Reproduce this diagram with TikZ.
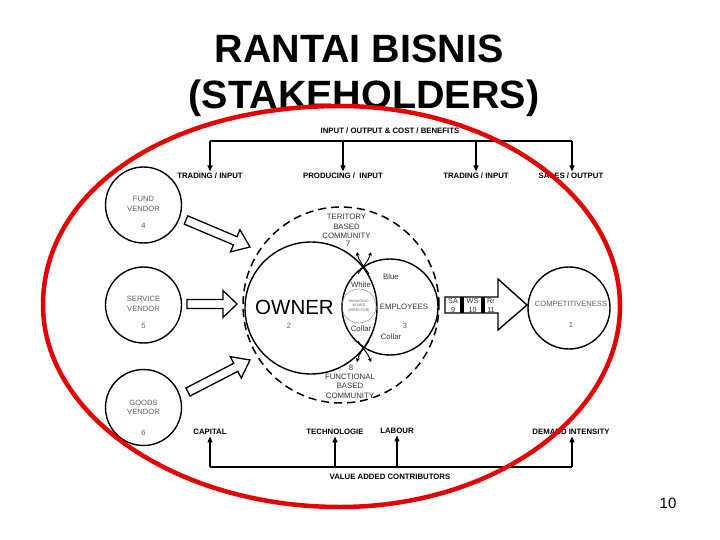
\documentclass[tikz,border=0pt]{standalone}
\usepackage{fontspec}
\setmainfont{Liberation Sans}
\usetikzlibrary{calc,arrows.meta}
\definecolor{ringred}{RGB}{228,0,0}
\definecolor{txtgray}{RGB}{95,95,95}
\newcommand{\hollowarr}[5]{%
  \coordinate (hb) at ($(#2)!#5!(#1)$);
  \draw[line width=1.3pt, fill=white] ($(#1)!#3!90:(#2)$) -- ($(hb)!#3!-90:(#1)$) -- ($(hb)!#4!-90:(#1)$) -- (#2) -- ($(hb)!#4!90:(#1)$) -- ($(hb)!#3!90:(#1)$) -- ($(#1)!#3!-90:(#2)$) -- cycle;}
\begin{document}
\begin{tikzpicture}[x=1pt,y=-1pt,
  lbl/.style={font=\fontsize{7.8}{9}\selectfont\bfseries, inner sep=1.5pt},
  sm/.style={font=\fontsize{7.6}{9.5}\selectfont, text=txtgray, inner sep=0pt, align=center},
  blk/.style={font=\fontsize{7.8}{9.5}\selectfont, text=black!80, inner sep=0pt, align=center},
  ln/.style={line width=1.2pt},
  arr/.style={line width=1.2pt, -{Triangle[length=6pt,width=5pt]}},
  circ/.style={circle, draw, line width=1.4pt, inner sep=0pt},
  xarr/.style={line width=0.9pt, -{Stealth[length=4pt,width=4pt]}},
]
\fill[white] (0,0) rectangle (720,540);
\useasboundingbox (0,0) rectangle (720,540);

% title
\node[font=\fontsize{39.5}{40}\selectfont\bfseries, anchor=base, inner sep=0pt] (title1) at (359,63) {RANTAI BISNIS};
\node[font=\fontsize{39.5}{40}\selectfont\bfseries, anchor=base, inner sep=0pt] (title2) at (364,109) {(STAKEHOLDERS)};

% top bracket
\node[lbl] (iocb) at (390,131) {INPUT / OUTPUT \& COST / BENEFITS};
\coordinate (tb1) at (210,141);
\coordinate (tb2) at (343,141);
\coordinate (tb3) at (476,141);
\coordinate (tb4) at (572,141);
\draw[ln] (tb1) -- (tb4);
\node[lbl] (trade1) at (210,176) {TRADING / INPUT};
\node[lbl] (prod) at (343,176) {PRODUCING /\ \ INPUT};
\node[lbl] (trade2) at (476,176) {TRADING / INPUT};
\node[lbl] (sales) at (571,176) {SALES / OUTPUT};
\draw[arr] (tb1) -- (tb1 |- trade1.north);
\draw[arr] (tb2) -- (tb2 |- prod.north);
\draw[arr] (tb3) -- (tb3 |- trade2.north);
\draw[arr] (tb4) -- (tb4 |- sales.north);

% bottom bracket
\coordinate (bb1) at (210,467);
\coordinate (bb2) at (335,467);
\coordinate (bb3) at (397,467);
\coordinate (bb4) at (572,467);
\draw[ln] (bb1) -- (bb4);
\node[lbl] (capital) at (210,432) {CAPITAL};
\node[lbl] (tech) at (335,432) {TECHNOLOGIE};
\node[lbl] (labour) at (397,431) {LABOUR};
\node[lbl] (demand) at (571,432) {DEMAND INTENSITY};
\node[lbl] (vac) at (390,477) {VALUE ADDED CONTRIBUTORS};
\draw[arr] (bb1) -- (bb1 |- capital.south);
\draw[arr, line width=1.8pt] (bb2) -- (bb2 |- tech.south);
\draw[arr] (bb3) -- (bb3 |- labour.south);
\draw[arr] (bb4) -- (bb4 |- demand.south);

% vendor circles
\node[circ, minimum size=76pt] (fund) at (143.5,205) {};
\node[sm] (fundt) at (143.5,204) {FUND\\VENDOR};
\node[sm] (fundn) at (143.5,226) {4};
\node[circ, minimum size=76pt] (serv) at (143.5,305) {};
\node[sm] (servt) at (143.5,304) {SERVICE\\VENDOR};
\node[sm] (servn) at (143.5,326) {5};
\node[circ, minimum size=76pt] (goods) at (143.5,407.5) {};
\node[sm] (goodst) at (143.5,407.5) {GOODS\\VENDOR};
\node[sm] (goodsn) at (143.5,433) {6};

% hollow arrows
\coordinate (a1t) at (186,220); \coordinate (a1h) at (250,247);
\coordinate (a2t) at (187,304); \coordinate (a2h) at (237,304);
\coordinate (a3t) at (188,392); \coordinate (a3h) at (250,360);
\hollowarr{a1t}{a1h}{4.5pt}{12pt}{16pt}
\hollowarr{a2t}{a2h}{4.5pt}{13.5pt}{14pt}
\hollowarr{a3t}{a3h}{4.5pt}{12pt}{16pt}

% centre
\node[circle, draw, line width=1.5pt, dash pattern=on 8pt off 5pt, minimum size=196pt, inner sep=0pt] (comm) at (341,305) {};
\node[circ, minimum size=132pt] (owner) at (311,308) {};
\node[circ, minimum size=96pt] (emp) at (390,307) {};
\node[circle, draw=gray, line width=0.4pt, minimum size=34pt, inner sep=0pt] (board) at (359,306) {};
\node[font=\fontsize{3.6}{4.6}\selectfont, align=center, text=txtgray, inner sep=0pt] (boardt) at (359,306) {MANAGING\\BOARD\\(DIRECTOR)};
\node[font=\fontsize{20.5}{20}\selectfont, inner sep=0pt] (ownert) at (294.5,307) {OWNER};
\node[sm] (ownern) at (289,326) {2};
\node[blk] (empt) at (404,307) {EMPLOYEES};
\node[sm] (empn) at (405,326) {3};
\node[blk] (blue) at (391,277) {Blue};
\node[blk] (collar1) at (391,337) {Collar};
\node[blk] (white) at (361,285) {White};
\node[blk] (collar2) at (361,329) {Collar};
\node[blk] (terr) at (346.5,226.5) {TERITORY\\BASED\\COMMUNITY};
\node[blk] (seven) at (348,244) {7};
\node[blk] (eight) at (351,368) {8};
\node[blk] (func) at (350,386) {FUNCTIONAL\\BASED\\COMMUNITY};

% crossing arrows at the intersections
\coordinate (xt1) at (369,274); \coordinate (xt2) at (357,252);
\coordinate (xt3) at (358,274); \coordinate (xt4) at (371,252);
\draw[xarr] (xt1) .. controls (364,266) and (359,262) .. (xt2);
\draw[xarr] (xt3) .. controls (363,266) and (368,262) .. (xt4);
\coordinate (xb1) at (369,341); \coordinate (xb2) at (357,362);
\coordinate (xb3) at (358,341); \coordinate (xb4) at (371,362);
\draw[xarr] (xb1) .. controls (364,349) and (359,353) .. (xb2);
\draw[xarr] (xb3) .. controls (363,349) and (368,353) .. (xb4);

% big arrow with boxes
\draw[line width=1.4pt, fill=white] (445,297) -- (498,297) -- (498,279) -- (527,305) -- (498,330) -- (498,313) -- (445,313) -- cycle;
\draw[line width=1.1pt] (461,297) -- (461,313) (463,297) -- (463,313) (482,297) -- (482,313) (484,297) -- (484,313);
\node[blk, font=\fontsize{7.2}{8}\selectfont] (sa) at (453,301) {SA};
\node[blk, font=\fontsize{7.2}{8}\selectfont] (sa9) at (453,310) {9};
\node[blk, font=\fontsize{7.2}{8}\selectfont] (ws) at (472.5,301) {WS};
\node[blk, font=\fontsize{7.2}{8}\selectfont] (ws10) at (472.5,310) {10};
\node[blk, font=\fontsize{7.2}{8}\selectfont] (rr) at (491,301) {Rr};
\node[blk, font=\fontsize{7.2}{8}\selectfont] (rr11) at (491,310) {11};

% competitiveness
\node[circ, minimum size=82pt] (comp) at (569,308) {};
\node[sm] (compt) at (571,304) {COMPETITIVENESS};
\node[sm] (compn) at (571,325) {1};

% page number
\node[font=\fontsize{15}{15}\selectfont, inner sep=0pt] (pnum) at (668,503) {10};

% red ring
\coordinate (rl) at (43,305);
\coordinate (rt) at (340,106);
\coordinate (rr) at (620,306);
\coordinate (rb) at (340,507);
\draw[ringred, line width=4.5pt]
  (rl) .. controls (43,190) and (168,106) .. (rt)
       .. controls (494,106) and (620,196) .. (rr)
       .. controls (620,416) and (494,507) .. (rb)
       .. controls (177,507) and (43,416) .. (rl) -- cycle;
\end{tikzpicture}
\end{document}
